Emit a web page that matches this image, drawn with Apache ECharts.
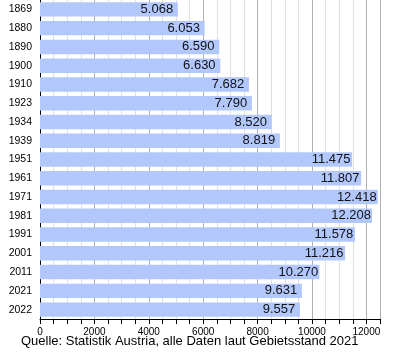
<!DOCTYPE html>
<html>
<head>
<meta charset="utf-8">
<script src="https://cdn.jsdelivr.net/npm/echarts@6/dist/echarts.min.js"></script>
<style>html,body{margin:0;padding:0;background:#fff}#c{width:400px;height:360px}</style>
</head>
<body>
<div id="c"></div>
<script>
const years = ['1869','1880','1890','1900','1910','1923','1934','1939','1951','1961','1971','1981','1991','2001','2011','2021','2022'];
const population = [5068, 6053, 6590, 6630, 7682, 7790, 8520, 8819, 11475, 11807, 12418, 12208, 11578, 11216, 10270, 9631, 9557];
const xMax = 12500;
const sourceText = 'Quelle: Statistik Austria, alle Daten laut Gebietsstand 2021';

const gridColors = [];
for (let i = 0; i <= xMax / 500; i++) {
  gridColors.push((i % 4 === 0 || i === xMax / 500) ? '#b0b0b0' : '#e0e0e0');
}

const chart = echarts.init(document.getElementById('c'), null, {renderer: 'canvas'});
chart.setOption({
  animation: false,
  backgroundColor: '#fff',
  textStyle: {fontFamily: 'Liberation Sans, Arial, sans-serif'},
  grid: {left: 40, right: 20, top: -2, height: 321, containLabel: false},
  xAxis: {
    type: 'value', min: 0, max: xMax, interval: 500,
    axisLine: {show: true, lineStyle: {color: '#000', width: 1}},
    axisTick: {show: true, length: 5, lineStyle: {color: '#000'}},
    axisLabel: {
      color: '#000', fontSize: 10, margin: 8,
      formatter: v => (v % 2000 === 0 ? String(v) : '')
    },
    splitLine: {show: true, lineStyle: {color: gridColors, width: 1}}
  },
  yAxis: {
    type: 'category', data: years, inverse: true,
    axisLine: {show: true, lineStyle: {color: '#000', width: 1}},
    axisTick: {show: false},
    axisLabel: {color: '#000', fontSize: 10.5, margin: 8}
  },
  series: [{
    type: 'bar',
    data: population,
    barCategoryGap: '23%',
    itemStyle: {color: '#b2c8fd'},
    label: {
      show: true, position: 'insideRight', distance: 0, align: 'center',
      offset: [-21, 0],
      color: '#111', fontSize: 13,
      formatter: p => {
        const s = String(p.value);
        return s.length > 3 ? s.slice(0, s.length - 3) + '.' + s.slice(-3) : s;
      }
    }
  }],
  graphic: [{
    type: 'text', left: 21, top: 335,
    style: {text: sourceText, fill: '#000', fontSize: 13, fontFamily: 'Liberation Sans, Arial, sans-serif'}
  }]
});
</script>
</body>
</html>
